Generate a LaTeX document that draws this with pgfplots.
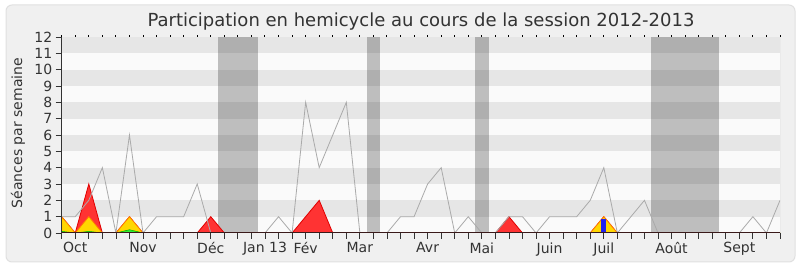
\documentclass[border=0pt]{standalone}
\usepackage{pgfplots}
\usepackage{pgfplotstable}
\pgfplotsset{compat=1.18}
\usepackage{fontspec}
\setmainfont{DejaVu Sans}

\definecolor{frameBg}{HTML}{F0F0F0}
\definecolor{frameLine}{HTML}{E0E0E0}
\definecolor{stripeA}{HTML}{E6E6E6}
\definecolor{stripeB}{HTML}{FAFAFA}
\definecolor{vacL}{HTML}{BEBEBE}
\definecolor{vacD}{HTML}{AFAFAF}
\definecolor{totalLine}{HTML}{AAAAAA}
\definecolor{redFill}{HTML}{FF3333}
\definecolor{redLine}{HTML}{E00000}
\definecolor{yelFill}{HTML}{FFD700}
\definecolor{yelLine}{HTML}{FF7F00}
\definecolor{grnFill}{HTML}{33EE33}
\definecolor{grnLine}{HTML}{00B000}
\definecolor{bluFill}{HTML}{2222EE}
\definecolor{txt}{HTML}{333333}
\definecolor{baseLine}{HTML}{3A1A1A}
\definecolor{rightLine}{HTML}{C8C8C8}

% weekly values: total sessions, presence, interventions, questions
\pgfplotstableread{
w total red yellow green
0 1 1 1 0.1
1 1 0 0 0
2 2 3 1 0.1
3 4 0 0 0
4 0 0 0 0
5 6 1 1 0.2
6 0 0 0 0
7 1 0 0 0
8 1 0 0 0
9 1 0 0 0
10 3 0 0 0
11 0 1 0 0
12 0 0 0 0
13 0 0 0 0
14 0 0 0 0
15 0 0 0 0
16 1 0 0 0
17 0 0 0 0
18 8 1 0 0
19 4 2 0 0
20 6 0 0 0
21 8 0 0 0
22 0 0 0 0
23 0 0 0 0
24 0 0 0 0
25 1 0 0 0
26 1 0 0 0
27 3 0 0 0
28 4 0 0 0
29 0 0 0 0
30 1 0 0 0
31 0 0 0 0
32 0 0 0 0
33 1 1 0 0
34 1 0 0 0
35 0 0 0 0
36 1 0 0 0
37 1 0 0 0
38 1 0 0 0
39 2 0 0 0
40 4 1 1 0.05
41 0 0 0 0
42 1 0 0 0
43 2 0 0 0
44 0 0 0 0
45 0 0 0 0
46 0 0 0 0
47 0 0 0 0
48 0 0 0 0
49 0 0 0 0
50 0 0 0 0
51 1 0 0 0
52 0 0 0 0
53 2 0 0 0
}\weeks

% holiday band with darker sub-stripes
\newcommand\vacation[2]{%
  \fill[vacL] (axis cs:#1,0) rectangle (axis cs:#2,12);
  \fill[vacD] (axis cs:#1,1) rectangle (axis cs:#2,2);
  \fill[vacD] (axis cs:#1,3) rectangle (axis cs:#2,4);
  \fill[vacD] (axis cs:#1,5) rectangle (axis cs:#2,6);
  \fill[vacD] (axis cs:#1,7) rectangle (axis cs:#2,8);
  \fill[vacD] (axis cs:#1,9) rectangle (axis cs:#2,10);
  \fill[vacD] (axis cs:#1,11) rectangle (axis cs:#2,12);
}

\begin{document}
\begin{tikzpicture}[x=1pt,y=1pt]
\fill[white] (0,0) rectangle (800,267);
\useasboundingbox (0,0) rectangle (800,267);
\fill[frameBg, draw=frameLine, line width=1pt, rounded corners=6pt] (6,5) rectangle (795,262);

\begin{axis}[
  at={(61.7pt,34pt)}, anchor=south west,
  scale only axis, width=718.3pt, height=196pt,
  xmin=0, xmax=53, ymin=0, ymax=12,
  axis on top,
  axis x line*=bottom, axis y line*=left,
  axis line style={-},
  x axis line style={baseLine, line width=1pt},
  y axis line style={txt, line width=1pt},
  xtick={0,...,53},
  xticklabels={{},Oct,{},{},{},{},Nov,{},{},{},{},Déc,{},{},{},Jan 13,{},{},Fév,{},{},{},Mar,{},{},{},{},Avr,{},{},{},Mai,{},{},{},{},Juin,{},{},{},Juil,{},{},{},{},Août,{},{},{},{},Sept,{},{},{}},
  ytick={0,...,12},
  tick align=outside,
  major tick length=6pt,
  tick style={txt, line width=0.8pt},
  ticklabel style={font=\fontsize{14}{14}\selectfont, text=txt},
  /pgf/number format/assume math mode=true,
]
% background stripes
\fill[stripeB] (axis cs:0,0) rectangle (axis cs:53,12);
\fill[stripeA] (axis cs:0,1) rectangle (axis cs:53,2);
\fill[stripeA] (axis cs:0,3) rectangle (axis cs:53,4);
\fill[stripeA] (axis cs:0,5) rectangle (axis cs:53,6);
\fill[stripeA] (axis cs:0,7) rectangle (axis cs:53,8);
\fill[stripeA] (axis cs:0,9) rectangle (axis cs:53,10);
\fill[stripeA] (axis cs:0,11) rectangle (axis cs:53,12);
% parliamentary holidays
\vacation{11.5}{14.5}
\vacation{22.5}{23.5}
\vacation{30.5}{31.5}
\vacation{43.5}{48.5}

\addplot[fill=redFill, draw=redLine, line width=0.8pt] table[x=w,y=red]{\weeks} \closedcycle;
\addplot[fill=yelFill, draw=yelLine, line width=0.8pt] table[x=w,y=yellow]{\weeks} \closedcycle;
\addplot[fill=grnFill, draw=grnLine, line width=0.5pt] table[x=w,y=green]{\weeks} \closedcycle;
\addplot[ybar, bar width=0.35, fill=bluFill, draw=none] coordinates {(40,0.88)};
\addplot[totalLine, line width=0.8pt] table[x=w,y=total]{\weeks};

\draw[rightLine, line width=1pt] (rel axis cs:1,0) -- (rel axis cs:1,1);
\end{axis}

% small week marks along the top edge
\begin{axis}[
  at={(61.7pt,34pt)}, anchor=south west,
  scale only axis, width=718.3pt, height=196pt,
  xmin=0, xmax=53, ymin=0, ymax=12,
  hide y axis,
  axis x line*=top,
  x axis line style={draw=none},
  xtick={0,...,53}, xticklabels={},
  tick align=outside, major tick length=1.5pt,
  tick style={black, line width=1pt},
]
\addplot[draw=none] coordinates {(0,0) (53,12)};
\end{axis}

\node[anchor=base, text=txt, font=\fontsize{18}{18}\selectfont] at (421,240.5) {Participation en hemicycle au cours de la session 2012-2013};
\node[rotate=90, text=txt, font=\fontsize{14}{14}\selectfont] at (18,134) {Séances par semaine};
\end{tikzpicture}
\end{document}
